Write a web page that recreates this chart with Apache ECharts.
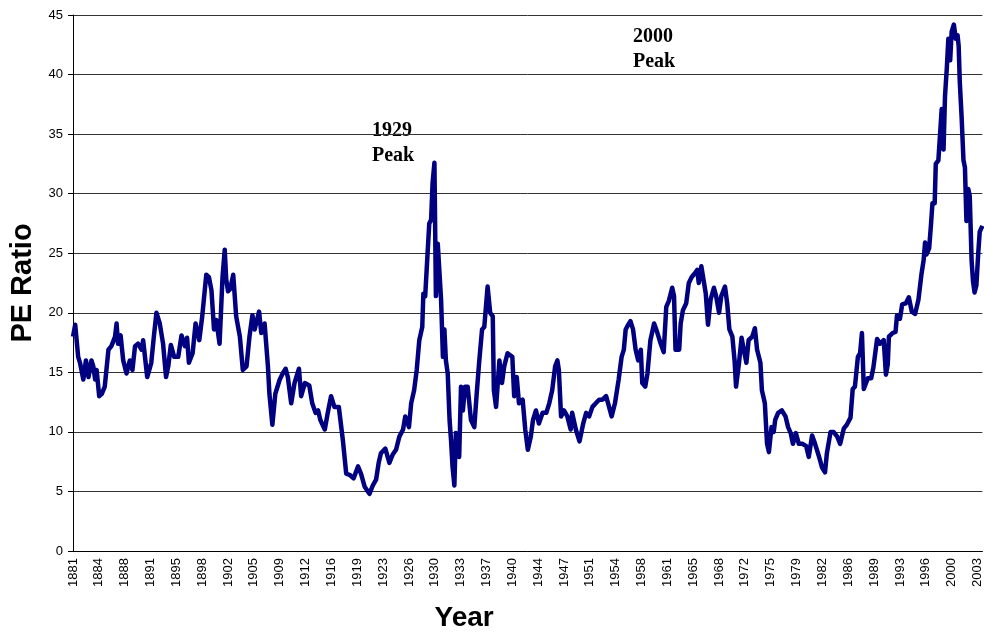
<!DOCTYPE html>
<html lang="en">
<head>
  <meta charset="UTF-8">
  <title>PE Ratio</title>
  <script src="https://cdn.jsdelivr.net/npm/echarts@6.0.0/dist/echarts.min.js"></script>
  <style>
    body { margin: 0; background: #fff; }
  </style>
</head>
<body>
<div id="main" style="width: 984px;height: 632px"></div>
<script>
  // [year, PE ratio], split by era
  const pe1881to1910 = [
    [1881.0, 18.0], [1881.3, 19.0], [1881.5, 19.1], [1881.7, 16.3], [1881.95, 15.8], [1882.4, 14.4],
    [1882.75, 16.0], [1883.1, 14.6], [1883.5, 16.0], [1883.75, 15.5], [1884.0, 14.4], [1884.2, 15.2],
    [1884.55, 13.0], [1884.9, 13.2], [1885.3, 13.8], [1885.8, 16.9], [1886.2, 17.2], [1886.7, 18.0],
    [1886.9, 19.1], [1887.1, 17.4], [1887.45, 18.1], [1887.8, 16.0], [1888.25, 14.9], [1888.7, 16.0],
    [1889.05, 15.2], [1889.4, 17.2], [1889.8, 17.4], [1890.3, 16.9], [1890.5, 17.7], [1891.05, 14.6],
    [1891.6, 15.8], [1891.95, 18.0], [1892.3, 20.0], [1892.75, 19.1], [1893.2, 17.4], [1893.6, 14.6],
    [1893.9, 15.5], [1894.25, 17.3], [1894.7, 16.3], [1895.25, 16.3], [1895.7, 18.1], [1896.15, 17.2],
    [1896.45, 17.9], [1896.7, 15.8], [1897.2, 16.6], [1897.6, 19.1], [1898.1, 17.7], [1898.5, 19.7],
    [1899.05, 23.2], [1899.4, 23.0], [1899.75, 21.9], [1900.1, 18.6], [1900.4, 19.4], [1900.85, 17.4],
    [1901.25, 23.0], [1901.55, 25.3], [1901.75, 22.8], [1902.0, 21.8], [1902.3, 22.0], [1902.7, 23.2],
    [1903.1, 19.7], [1903.6, 18.0], [1904.0, 15.2], [1904.5, 15.5], [1904.9, 18.0], [1905.3, 19.8],
    [1905.6, 18.6], [1906.2, 20.1], [1906.5, 18.3], [1906.95, 19.1], [1907.4, 15.5], [1907.6, 13.2],
    [1908.0, 10.6], [1908.4, 13.2], [1909.0, 14.4], [1909.4, 14.9], [1909.8, 15.3], [1910.1, 14.6],
    [1910.55, 12.4]
  ];
  const pe1911to1940 = [
    [1911.0, 14.1], [1911.6, 15.3], [1911.9, 13.0], [1912.4, 14.1], [1913.0, 13.9], [1913.4, 12.4],
    [1913.85, 11.6], [1914.2, 11.8], [1914.5, 11.0], [1915.1, 10.2], [1915.5, 11.6], [1915.95, 13.0],
    [1916.4, 12.1], [1917.0, 12.1], [1917.55, 9.3], [1918.0, 6.5], [1918.45, 6.4], [1919.0, 6.1],
    [1919.6, 7.1], [1920.0, 6.5], [1920.5, 5.4], [1921.15, 4.8], [1921.6, 5.5], [1922.05, 6.0],
    [1922.4, 7.4], [1922.7, 8.2], [1923.3, 8.6], [1923.85, 7.4], [1924.3, 8.1], [1924.75, 8.5],
    [1925.2, 9.6], [1925.7, 10.2], [1926.0, 11.3], [1926.5, 10.4], [1926.8, 12.4], [1927.2, 13.5],
    [1927.55, 15.2], [1927.9, 17.7], [1928.3, 18.8], [1928.45, 21.6], [1928.7, 21.4], [1929.05, 25.3],
    [1929.25, 27.5], [1929.5, 27.8], [1929.7, 30.9], [1929.95, 32.6], [1930.15, 21.4], [1930.4, 25.8],
    [1930.6, 25.8], [1930.85, 21.1], [1931.1, 16.3], [1931.3, 18.6], [1931.5, 16.0], [1931.75, 14.9],
    [1932.0, 11.0], [1932.2, 9.3], [1932.4, 7.1], [1932.65, 5.5], [1932.85, 9.9], [1933.1, 9.9],
    [1933.3, 7.9], [1933.55, 13.8], [1933.8, 11.8], [1934.1, 13.8], [1934.45, 13.8], [1934.9, 11.0],
    [1935.35, 10.4], [1935.65, 13.0], [1936.0, 15.8], [1936.4, 18.6], [1936.7, 18.8], [1937.15, 22.2],
    [1937.5, 20.0], [1937.85, 19.7], [1938.0, 13.5], [1938.3, 12.1], [1938.75, 16.0], [1939.1, 14.1],
    [1939.4, 15.5], [1939.85, 16.6], [1940.1, 16.5], [1940.5, 16.3], [1940.75, 13.0]
  ];
  const pe1941to1970 = [
    [1941.1, 14.6], [1941.4, 12.4], [1941.9, 12.7], [1942.25, 10.2], [1942.6, 8.5], [1943.0, 9.6],
    [1943.3, 11.0], [1943.7, 11.8], [1944.1, 10.7], [1944.6, 11.6], [1945.1, 11.6], [1945.5, 12.4],
    [1945.9, 13.5], [1946.3, 15.5], [1946.6, 16.0], [1946.8, 15.2], [1947.1, 11.3], [1947.5, 11.8],
    [1947.95, 11.3], [1948.4, 10.2], [1948.6, 11.6], [1949.1, 10.2], [1949.6, 9.2], [1950.1, 10.7],
    [1950.5, 11.6], [1950.9, 11.3], [1951.35, 12.1], [1951.8, 12.4], [1952.25, 12.7], [1952.7, 12.7],
    [1953.2, 13.0], [1953.6, 12.1], [1953.95, 11.3], [1954.4, 12.4], [1954.9, 14.4], [1955.3, 16.3],
    [1955.6, 16.9], [1955.85, 18.6], [1956.2, 19.0], [1956.5, 19.3], [1956.85, 18.6], [1957.2, 16.9],
    [1957.55, 16.0], [1957.9, 16.9], [1958.1, 14.1], [1958.5, 13.8], [1958.8, 14.9], [1959.2, 17.7],
    [1959.7, 19.1], [1960.1, 18.4], [1960.6, 17.4], [1961.0, 16.7], [1961.35, 20.5], [1961.7, 21.0],
    [1962.15, 22.1], [1962.4, 21.4], [1962.6, 16.9], [1963.1, 16.9], [1963.3, 19.1], [1963.6, 20.2],
    [1964.05, 20.8], [1964.4, 22.5], [1964.8, 23.0], [1965.2, 23.3], [1965.55, 23.6], [1965.75, 22.5],
    [1966.1, 23.9], [1966.35, 24.0], [1966.7, 21.6], [1967.0, 19.0], [1967.35, 21.1], [1967.8, 22.1],
    [1968.1, 21.4], [1968.5, 20.0], [1968.8, 21.4], [1969.3, 22.2], [1969.6, 20.8], [1969.9, 18.6],
    [1970.3, 18.0], [1970.6, 16.0], [1970.8, 13.8]
  ];
  const pe1971to2004 = [
    [1971.2, 15.8], [1971.55, 17.9], [1971.85, 16.9], [1972.2, 15.8], [1972.5, 17.7], [1973.0, 18.0],
    [1973.35, 18.7], [1973.65, 16.9], [1974.1, 15.8], [1974.3, 13.5], [1974.7, 12.4], [1975.0, 9.0],
    [1975.25, 8.3], [1975.6, 10.4], [1975.9, 10.0], [1976.1, 11.0], [1976.5, 11.6], [1977.0, 11.8],
    [1977.5, 11.3], [1977.85, 10.4], [1978.2, 9.9], [1978.5, 9.0], [1978.9, 9.9], [1979.3, 9.0],
    [1979.8, 9.0], [1980.3, 8.8], [1980.65, 7.9], [1981.1, 9.7], [1981.5, 9.0], [1982.0, 8.0],
    [1982.45, 7.0], [1982.85, 6.6], [1983.1, 8.2], [1983.6, 10.0], [1984.0, 10.0], [1984.5, 9.6],
    [1984.9, 9.0], [1985.4, 10.3], [1985.8, 10.6], [1986.3, 11.2], [1986.6, 13.6], [1986.9, 13.8],
    [1987.3, 16.3], [1987.6, 16.6], [1987.85, 18.3], [1988.1, 13.6], [1988.3, 13.5], [1988.65, 14.5],
    [1989.1, 14.5], [1989.4, 15.4], [1989.9, 17.8], [1990.3, 17.4], [1990.8, 17.7], [1991.1, 14.8],
    [1991.35, 15.7], [1991.5, 18.0], [1992.0, 18.3], [1992.4, 18.4], [1992.6, 19.8], [1993.0, 19.5],
    [1993.3, 20.7], [1993.8, 20.8], [1994.2, 21.3], [1994.6, 20.1], [1995.05, 19.9], [1995.5, 21.1],
    [1995.9, 23.2], [1996.2, 24.4], [1996.4, 25.9], [1996.6, 24.9], [1996.95, 25.4], [1997.2, 27.4],
    [1997.4, 29.2], [1997.7, 29.2], [1997.85, 32.5], [1998.2, 32.8], [1998.4, 32.8], [1998.65, 37.1],
    [1998.9, 33.7], [1999.1, 38.2], [1999.35, 40.6], [1999.55, 43.0], [1999.8, 41.2], [2000.0, 43.6],
    [2000.3, 44.2], [2000.55, 43.0], [2000.8, 43.3], [2000.95, 42.4], [2001.1, 39.4], [2001.35, 36.4],
    [2001.6, 32.8], [2001.8, 32.2], [2002.0, 27.7], [2002.25, 30.4], [2002.45, 29.8], [2002.7, 24.4],
    [2002.9, 22.6], [2003.1, 21.7], [2003.35, 22.3], [2003.6, 25.0], [2003.8, 26.8], [2004.16, 27.3]
  ];
  const startYear = 1881;
  const endYear = 2004.16;
  const peakNotes = ['1929\nPeak', '2000\nPeak'];

  // x axis runs in months since Jan 1881, a label every 42 months
  const series = [].concat(pe1881to1910, pe1911to1940, pe1941to1970, pe1971to2004)
    .map(function (p) { return [(p[0] - startYear) * 12, p[1]]; });

  var chart = echarts.init(document.getElementById('main'));
  var option = {
    animation: false,
    backgroundColor: '#fff',
    grid: { left: 73, right: 0, top: 15, bottom: 81 },
    xAxis: {
      type: 'value',
      min: 0,
      max: (endYear - startYear) * 12,
      interval: 42,
      axisLine: { lineStyle: { color: '#000', width: 1 } },
      axisTick: { show: false },
      splitLine: { show: false },
      axisLabel: {
        rotate: 90,
        margin: 7,
        fontSize: 13,
        fontFamily: 'Arial, "Liberation Sans", sans-serif',
        color: '#000',
        showMaxLabel: false,
        formatter: function (v) { return String(startYear + Math.floor(v / 12)); }
      }
    },
    yAxis: {
      type: 'value',
      min: 0,
      max: 45,
      interval: 5,
      name: 'PE Ratio',
      nameLocation: 'middle',
      nameRotate: 90,
      nameGap: 36,
      nameTextStyle: {
        fontSize: 29,
        fontWeight: 'bold',
        fontFamily: 'Arial, "Liberation Sans", sans-serif',
        color: '#000'
      },
      axisLine: { show: true, lineStyle: { color: '#000', width: 1 } },
      axisTick: { show: true, length: 5, lineStyle: { color: '#000' } },
      splitLine: { lineStyle: { color: '#333', width: 1 } },
      axisLabel: {
        margin: 10,
        fontSize: 13,
        fontFamily: 'Arial, "Liberation Sans", sans-serif',
        color: '#000'
      }
    },
    graphic: [
      {
        type: 'text', left: 466.5 - 32, top: 604,
        style: { text: 'Year', font: 'bold 28px Arial, "Liberation Sans", sans-serif', fill: '#000' }
      },
      {
        type: 'text', left: 372, top: 118,
        style: { text: peakNotes[0], font: 'bold 20px "Liberation Serif", "Times New Roman", serif', lineHeight: 25, fill: '#000' }
      },
      {
        type: 'text', left: 633, top: 24,
        style: { text: peakNotes[1], font: 'bold 20px "Liberation Serif", "Times New Roman", serif', lineHeight: 25, fill: '#000' }
      }
    ],
    series: [{
      type: 'line',
      data: series,
      showSymbol: false,
      symbol: 'none',
      lineStyle: { color: '#000080', width: 4.5, join: 'round' },
      itemStyle: { color: '#000080' }
    }]
  };
  chart.setOption(option);
</script>
</body>
</html>
